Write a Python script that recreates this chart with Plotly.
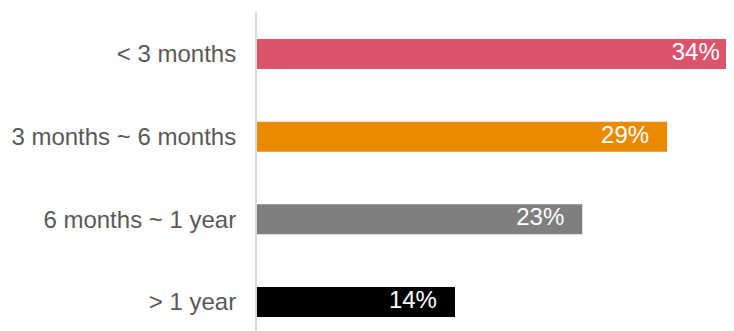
import plotly.graph_objects as go

categories = ["< 3 months", "3 months ~ 6 months", "6 months ~ 1 year", "> 1 year"]
values = [34, 29, 23, 14]
labels = [f"{v}%" for v in values]
colors = ["#DB546C", "#EA8A00", "#7F7F7F", "#000000"]

FONT = "Liberation Sans, Arial, sans-serif"
XMAX = 33.73
SHIFT = 1.273  # ~18px label inset from bar end

fig = go.Figure()
fig.add_trace(go.Bar(
    x=values, y=categories, orientation="h",
    marker=dict(color=colors, line=dict(width=0)),
    width=0.363, hoverinfo="skip",
))
fig.add_trace(go.Scatter(
    x=values, y=categories, mode="text", text=labels,
    textposition="middle left", cliponaxis=False,
    textfont=dict(color="white", size=24, family=FONT),
    xaxis="x2", hoverinfo="skip",
))
fig.update_layout(
    width=726, height=323,
    margin=dict(l=249, r=0, t=4, b=0),
    plot_bgcolor="white", paper_bgcolor="white",
    showlegend=False,
    font=dict(family=FONT, size=24, color="#595959"),
    xaxis=dict(range=[0, XMAX], visible=False, showgrid=False, zeroline=False),
    xaxis2=dict(range=[SHIFT, XMAX + SHIFT], overlaying="x", visible=False,
                showgrid=False, zeroline=False),
    yaxis=dict(
        categoryorder="array", categoryarray=categories,
        range=[3.351, -0.508], showgrid=False, zeroline=False,
        showline=True, linecolor="#D9D9D9", linewidth=2,
        ticks="", ticklabelstandoff=14,
        tickfont=dict(color="#595959", size=24, family=FONT),
    ),
)
fig.write_html("out.html")
